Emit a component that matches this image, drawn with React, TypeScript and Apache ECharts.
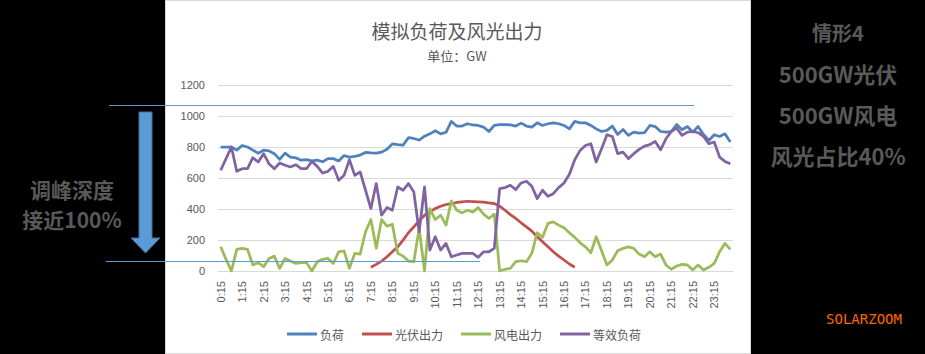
import React, { useEffect, useRef } from "react";
import * as echarts from "echarts";

// categories: 0:15 ... 24:00 in 15 minute steps
const categories: string[] = [];
for (let i = 1; i <= 96; i++) {
  const m = i * 15;
  categories.push(`${Math.floor(m / 60)}:${String(m % 60).padStart(2, "0")}`);
}

const seriesNames = ["负荷", "光伏出力", "风电出力", "等效负荷"];

const load = [
  800, 800, 800, 780, 810, 800, 780, 760, 780, 775, 757, 720, 760, 735, 730, 715,
  718, 710, 715, 705, 725, 725, 710, 745, 735, 740, 748, 765, 762, 760, 767, 785,
  820, 815, 812, 860, 855, 845, 870, 885, 905, 885, 895, 965, 935, 935, 950, 942,
  939, 928, 900, 939, 945, 945, 943, 935, 954, 935, 928, 956, 939, 950, 956, 950,
  939, 917, 965, 956, 956, 939, 917, 900, 907, 935, 881, 913, 875, 896, 890, 892,
  939, 932, 900, 896, 900, 945, 911, 932, 896, 932, 881, 842, 879, 868, 885, 832,
];

const solar: (number | null)[] = [
  null, null, null, null, null, null, null, null, null, null, null, null, null, null, null, null,
  null, null, null, null, null, null, null, null, null, null, null, null, 24, 43, 64, 92,
  124, 156, 199, 247, 285, 324, 360, 382, 403, 418, 429, 435, 442, 446, 450, 448,
  446, 444, 440, 435, 418, 392, 364, 339, 311, 285, 257, 221, 189, 156, 124, 96,
  71, 45, 24, null, null, null, null, null, null, null, null, null, null, null, null, null,
  null, null, null, null, null, null, null, null, null, null, null, null, null, null, null, null,
];

const wind = [
  156, 75, 0, 139, 146, 139, 39, 54, 28, 81, 96, 17, 81, 64, 49, 54,
  54, 0, 60, 75, 81, 49, 124, 129, 17, 114, 109, 253, 332, 146, 332, 289,
  302, 114, 96, 64, 60, 274, 0, 403, 332, 360, 296, 452, 392, 375, 392, 380,
  409, 367, 339, 367, 0, 11, 17, 60, 66, 60, 114, 247, 217, 307, 317, 296,
  279, 247, 217, 182, 156, 118, 221, 131, 39, 71, 131, 146, 156, 146, 109, 92,
  124, 92, 109, 39, 11, 32, 43, 39, 6, 39, 6, 24, 49, 124, 178, 139,
];

const netLoad = [
  650, 725, 800, 643, 660, 660, 731, 703, 757, 692, 660, 697, 682, 671, 686, 660,
  660, 707, 675, 632, 643, 675, 585, 617, 718, 617, 639, 521, 403, 564, 360, 409,
  392, 542, 521, 564, 510, 253, 542, 135, 221, 135, 178, 92, 103, 114, 114, 113,
  88, 124, 124, 146, 532, 538, 553, 525, 568, 579, 547, 467, 521, 482, 499, 538,
  568, 624, 718, 778, 810, 821, 703, 789, 879, 868, 757, 767, 725, 757, 785, 806,
  815, 836, 782, 853, 900, 922, 875, 896, 900, 892, 868, 821, 832, 735, 707, 692,
];

const colors = ["#4F81BD", "#C0504D", "#9BBB59", "#8064A2"];
const yTicks = { min: 0, max: 1200, interval: 200 };

const titleText = "模拟负荷及风光出力";
const subTitleText = "单位：GW";
const leftNote = ["调峰深度", "接近100%"];
const rightNote = ["情形4", "500GW光伏", "500GW风电", "风光占比40%"];
const brand = "SOLARZOOM";

export default function App() {
  const ref = useRef<HTMLDivElement>(null);

  useEffect(() => {
    document.body.style.margin = "0";
    if (!ref.current) return;
    const chart = echarts.init(ref.current, null, { renderer: "svg" });
    const grey = "#595959";
    const font = "'Noto Sans CJK SC', 'Noto Sans', sans-serif";
    const dataSeries = [load, solar, wind, netLoad];
    chart.setOption({
      animation: false,
      backgroundColor: "transparent",
      textStyle: { fontFamily: font },
      color: colors,
      grid: { left: 218, right: 192, top: 85, bottom: 83, containLabel: false },
      legend: {
        data: seriesNames,
        left: 282,
        top: 323,
        icon: "rect",
        itemWidth: 30,
        itemHeight: 3,
        itemGap: 18,
        textStyle: { color: grey, fontSize: 12, fontFamily: font, padding: [0, 0, 0, -2] },
      },
      xAxis: {
        type: "category",
        data: categories,
        boundaryGap: true,
        axisLine: { lineStyle: { color: "#d9d9d9", width: 1 } },
        axisTick: { show: false },
        axisLabel: {
          interval: 3,
          rotate: 90,
          color: grey,
          fontSize: 11,
          margin: 10,
          fontFamily: "'Liberation Sans', sans-serif",
        },
      },
      yAxis: {
        type: "value",
        min: yTicks.min,
        max: yTicks.max,
        interval: yTicks.interval,
        axisLine: { show: false },
        axisTick: { show: false },
        splitLine: { lineStyle: { color: "#d9d9d9", width: 1 } },
        axisLabel: {
          color: grey,
          fontSize: 11,
          margin: 13,
          formatter: (v: number) => String(v),
          fontFamily: "'Liberation Sans', sans-serif",
        },
      },
      series: seriesNames.map((name, i) => ({
        name,
        type: "line",
        data: dataSeries[i],
        symbol: "none",
        smooth: false,
        connectNulls: false,
        lineStyle: { width: 2.75, color: colors[i], join: "round" },
        itemStyle: { color: colors[i] },
        z: 2 + i,
      })),
      graphic: [
        {
          type: "text",
          x: 457,
          y: 30,
          style: {
            text: titleText,
            fill: grey,
            fontSize: 19,
            fontFamily: font,
            textAlign: "center",
            textVerticalAlign: "middle",
          },
        },
        {
          type: "text",
          x: 457,
          y: 55,
          style: {
            text: subTitleText,
            fill: grey,
            fontSize: 13,
            fontFamily: font,
            textAlign: "center",
            textVerticalAlign: "middle",
          },
        },
        {
          type: "line",
          shape: { x1: 109, y1: 105.5, x2: 694, y2: 105.5 },
          style: { stroke: "#5B9BD5", lineWidth: 1 },
          z: 100,
        },
        {
          type: "line",
          shape: { x1: 106, y1: 261.5, x2: 480, y2: 261.5 },
          style: { stroke: "#5B9BD5", lineWidth: 1 },
          z: 100,
        },
        {
          type: "polygon",
          shape: {
            points: [
              [139, 112],
              [152, 112],
              [152, 238],
              [160, 238],
              [145.5, 253],
              [131, 238],
              [139, 238],
            ],
          },
          style: { fill: "#5B9BD5", stroke: "#41719C", lineWidth: 1 },
          z: 100,
        },
        ...leftNote.map((t, i) => ({
          type: "text",
          x: 72,
          y: 189 + i * 30,
          style: {
            text: t,
            fill: grey,
            fontSize: 21,
            fontWeight: "bold",
            fontFamily: font,
            textAlign: "center",
            textVerticalAlign: "middle",
          },
        })),
        ...rightNote.map((t, i) => ({
          type: "text",
          x: 838,
          y: 32 + i * 41,
          style: {
            text: t,
            fill: grey,
            fontSize: i === 0 ? 20 : 22,
            fontWeight: "bold",
            fontFamily: font,
            textAlign: "center",
            textVerticalAlign: "middle",
          },
        })),
        {
          type: "text",
          x: 864,
          y: 319,
          style: {
            text: brand,
            fill: "#FF6600",
            fontSize: 14,
            fontFamily: "'DejaVu Sans Mono', monospace",
            textAlign: "center",
            textVerticalAlign: "middle",
          },
        },
      ],
    });
    return () => chart.dispose();
  }, []);

  return (
    <div style={{ position: "fixed", left: 0, top: 0, width: 925, height: 354, background: "#000" }}>
      <div
        style={{
          position: "absolute",
          left: 165,
          top: 0,
          width: 584,
          height: 352,
          background: "#fff",
          border: "1px solid #d9d9d9",
        }}
      />
      <div ref={ref} style={{ position: "absolute", left: 0, top: 0, width: 925, height: 354 }} />
    </div>
  );
}
